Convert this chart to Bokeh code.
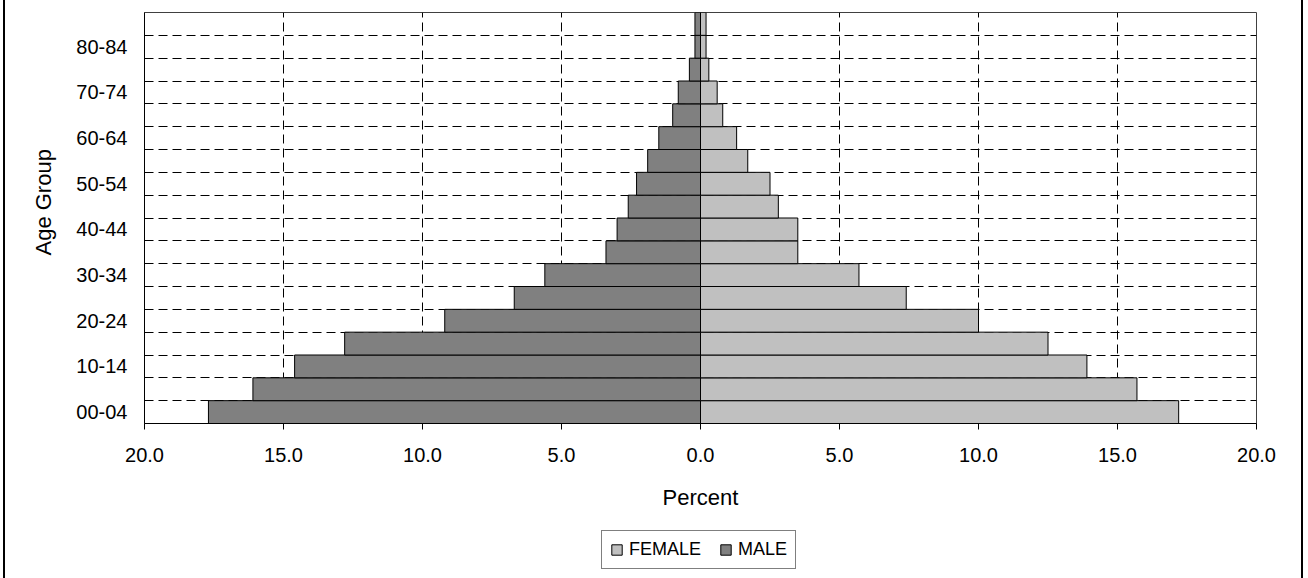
from bokeh.plotting import figure
from bokeh.layouts import column
from bokeh.models import Range1d, FixedTicker, Legend, LegendItem, ColumnDataSource, Title
from bokeh.embed import file_html
from bokeh.resources import INLINE

# ---- data ----
age_groups = ["00-04", "05-09", "10-14", "15-19", "20-24", "25-29", "30-34", "35-39",
              "40-44", "45-49", "50-54", "55-59", "60-64", "65-69", "70-74", "75-79",
              "80-84", "85+"]
male = [17.7, 16.1, 14.6, 12.8, 9.2, 6.7, 5.6, 3.4, 3.0, 2.6, 2.3, 1.9, 1.5, 1.0, 0.8, 0.4, 0.2, 0.2]
female = [17.2, 15.7, 13.9, 12.5, 10.0, 7.4, 5.7, 3.5, 3.5, 2.8, 2.5, 1.7, 1.3, 0.8, 0.6, 0.3, 0.2, 0.2]
x_ticks = [-20, -15, -10, -5, 0, 5, 10, 15, 20]
x_tick_labels = ["20.0", "15.0", "10.0", "5.0", "0.0", "5.0", "10.0", "15.0", "20.0"]
series_names = ["FEMALE", "MALE"]
series_colors = ["#C0C0C0", "#808080"]

FONT = "Liberation Sans"
n = len(age_groups)
ypos = [i + 0.5 for i in range(n)]

src = ColumnDataSource(dict(
    y=ypos,
    male_left=[-v for v in male],
    zero=[0.0] * n,
    female_right=female,
    label=age_groups,
))

TOP_H = 525
p = figure(width=1308, height=TOP_H, output_backend="svg", toolbar_location=None,
           x_range=Range1d(-20, 20), y_range=Range1d(0, n),
           min_border_left=144, min_border_right=52, min_border_top=12,
           min_border_bottom=TOP_H - 423)
p.background_fill_color = "white"
p.border_fill_color = None
p.outline_line_color = "#404040"
p.outline_line_width = 1

rf = p.hbar(y="y", left="zero", right="female_right", height=1.0, source=src,
            fill_color=series_colors[0], line_color="black", line_width=1)
rm = p.hbar(y="y", left="male_left", right="zero", height=1.0, source=src,
            fill_color=series_colors[1], line_color="black", line_width=1)

# x axis
xa = p.xaxis[0]
xa.ticker = FixedTicker(ticks=x_ticks)
xa.major_label_overrides = {t: l for t, l in zip(x_ticks, x_tick_labels)}
xa.minor_tick_line_color = None
xa.major_tick_out = 6
xa.major_tick_in = 0
xa.major_label_standoff = 18
xa.major_label_text_font = FONT
xa.major_label_text_font_size = "20px"
xa.major_label_text_color = "black"
xa.axis_line_color = "black"
xa.major_tick_line_color = "black"
xa.axis_label = "Percent"
xa.axis_label_text_font = FONT
xa.axis_label_text_font_size = "22px"
xa.axis_label_text_font_style = "normal"
xa.axis_label_text_color = "black"
xa.axis_label_standoff = 20

# y axis
ya = p.yaxis[0]
ytick_pos = [ypos[i] for i in range(0, n - 1, 2)]
ya.ticker = FixedTicker(ticks=ytick_pos)
ya.major_label_overrides = {ypos[i]: age_groups[i] for i in range(0, n - 1, 2)}
ya.minor_tick_line_color = None
ya.major_tick_out = 0
ya.major_tick_in = 0
ya.major_label_standoff = 17
ya.major_label_text_font = FONT
ya.major_label_text_font_size = "20px"
ya.major_label_text_color = "black"
ya.axis_line_color = "black"

# y axis title, placed a little above the frame centre as in the reference
p.add_layout(Title(text="Age Group", align="left", offset=168, standoff=36,
                   text_font=FONT, text_font_size="22px", text_font_style="normal",
                   text_color="black"), "left")

# grids
p.xgrid[0].ticker = FixedTicker(ticks=[-15, -10, -5, 5, 10, 15])
p.xgrid[0].grid_line_color = "black"
p.xgrid[0].grid_line_dash = "9 5"
p.xgrid[0].grid_line_width = 1
p.ygrid[0].ticker = FixedTicker(ticks=list(range(1, n + 1)))
p.ygrid[0].grid_line_color = "black"
p.ygrid[0].grid_line_dash = "9 5"
p.ygrid[0].grid_line_width = 1

# ---- legend strip (second figure; its frame is aligned with the main frame) ----
BOT_H = 578 - TOP_H
p2 = figure(width=1308, height=BOT_H, output_backend="svg", toolbar_location=None,
            x_axis_type=None, y_axis_type=None, x_range=Range1d(0, 1), y_range=Range1d(0, 1),
            min_border=0, min_border_left=0, min_border_right=0,
            min_border_top=0, min_border_bottom=0)
p2.background_fill_color = None
p2.border_fill_color = None
p2.outline_line_color = None
p2.grid.visible = False
# proxy renderers with no drawable data, only used for the legend swatches
nan = float("nan")
proxy = ColumnDataSource(dict(y=[nan], l=[nan], r=[nan]))
lf = p2.hbar(y="y", left="l", right="r", height=1, source=proxy,
             fill_color=series_colors[0], line_color="black", line_width=1)
lm = p2.hbar(y="y", left="l", right="r", height=1, source=proxy,
             fill_color=series_colors[1], line_color="black", line_width=1)
legend = Legend(items=[LegendItem(label=series_names[0], renderers=[lf]),
                       LegendItem(label=series_names[1], renderers=[lm])],
                orientation="horizontal", location=(457, 9),
                label_text_font=FONT, label_text_font_size="18px",
                label_text_color="black",
                glyph_width=13, glyph_height=13, label_standoff=6, spacing=18,
                padding=8, margin=0,
                border_line_color="black", border_line_width=1,
                background_fill_color="white", background_fill_alpha=1.0)
p2.add_layout(legend)

layout = column(p, p2, spacing=0, styles={
    "background": "linear-gradient(to right, white 0px, white 3px, black 3px, black 5px, "
                  "white 5px, white 1301px, black 1301px, black 1303px, white 1303px)"
})

open("out.html", "w").write(file_html(layout, INLINE))
